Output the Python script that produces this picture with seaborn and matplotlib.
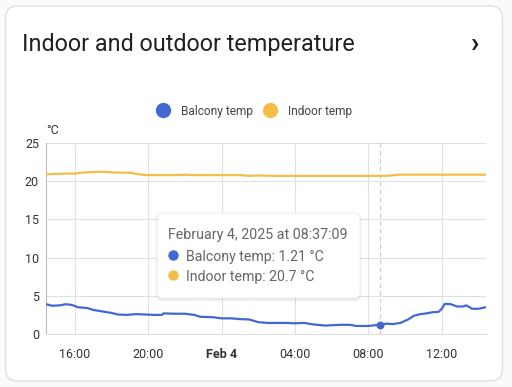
import matplotlib
matplotlib.use("Agg")
import matplotlib.pyplot as plt
from matplotlib.patches import FancyBboxPatch
from matplotlib.lines import Line2D
import pandas as pd
import seaborn as sns

# ---- data --------------------------------------------------------------
balcony_times = [
    "2025-02-03 14:25", "2025-02-03 14:45", "2025-02-03 15:10", "2025-02-03 15:30",
    "2025-02-03 15:50", "2025-02-03 16:10", "2025-02-03 16:40", "2025-02-03 17:00",
    "2025-02-03 17:30", "2025-02-03 18:00", "2025-02-03 18:20", "2025-02-03 18:50",
    "2025-02-03 19:20", "2025-02-03 19:50", "2025-02-03 20:20", "2025-02-03 20:45",
    "2025-02-03 20:50", "2025-02-03 21:30", "2025-02-03 22:00", "2025-02-03 22:30",
    "2025-02-03 22:50", "2025-02-03 23:30", "2025-02-04 00:00", "2025-02-04 00:30",
    "2025-02-04 01:00", "2025-02-04 01:30", "2025-02-04 02:00", "2025-02-04 02:30",
    "2025-02-04 03:30", "2025-02-04 04:00", "2025-02-04 04:30", "2025-02-04 05:00",
    "2025-02-04 05:40", "2025-02-04 06:00", "2025-02-04 06:30", "2025-02-04 07:00",
    "2025-02-04 07:20", "2025-02-04 08:00", "2025-02-04 08:37", "2025-02-04 09:00",
    "2025-02-04 09:20", "2025-02-04 09:45", "2025-02-04 10:10", "2025-02-04 10:30",
    "2025-02-04 10:50", "2025-02-04 11:10", "2025-02-04 11:30", "2025-02-04 11:50",
    "2025-02-04 12:00", "2025-02-04 12:10", "2025-02-04 12:30", "2025-02-04 12:50",
    "2025-02-04 13:10", "2025-02-04 13:20", "2025-02-04 13:40", "2025-02-04 14:00",
    "2025-02-04 14:24",
]
balcony_temp = [
    3.9, 3.7, 3.75, 3.9, 3.8, 3.5, 3.4, 3.15,
    2.95, 2.75, 2.55, 2.5, 2.6, 2.55, 2.5, 2.5,
    2.7, 2.65, 2.65, 2.5, 2.25, 2.2, 2.05, 2.05,
    1.95, 1.9, 1.55, 1.45, 1.45, 1.4, 1.45, 1.25,
    1.1, 1.15, 1.2, 1.2, 1.05, 1.05, 1.21, 1.35,
    1.3, 1.45, 1.9, 2.4, 2.6, 2.7, 2.85, 2.9,
    3.3, 3.95, 3.9, 3.6, 3.6, 3.75, 3.3, 3.3,
    3.5,
]

indoor_times = [
    "2025-02-03 14:25", "2025-02-03 15:30", "2025-02-03 16:00", "2025-02-03 16:30",
    "2025-02-03 17:30", "2025-02-03 18:00", "2025-02-03 19:00", "2025-02-03 19:40",
    "2025-02-03 20:00", "2025-02-03 21:30", "2025-02-03 22:00", "2025-02-03 22:30",
    "2025-02-04 00:00", "2025-02-04 01:00", "2025-02-04 01:30", "2025-02-04 02:00",
    "2025-02-04 03:00", "2025-02-04 06:00", "2025-02-04 08:37", "2025-02-04 09:00",
    "2025-02-04 09:40", "2025-02-04 12:00", "2025-02-04 14:24",
]
indoor_temp = [
    20.9, 21.0, 21.0, 21.15, 21.25, 21.15, 21.1, 20.85,
    20.8, 20.8, 20.85, 20.8, 20.8, 20.8, 20.7, 20.75,
    20.7, 20.7, 20.7, 20.7, 20.85, 20.85, 20.85,
]

hover_time = "2025-02-04 08:37"
hover_balcony = 1.21
hover_indoor = 20.7

x_start, x_end = "2025-02-03 14:25", "2025-02-04 14:25"
y_ticks = [0, 5, 10, 15, 20, 25]

BLUE = "#4269d0"
YELLOW = "#f4bd4a"

df = pd.concat([
    pd.DataFrame({"time": pd.to_datetime(balcony_times), "temp": balcony_temp,
                  "sensor": "Balcony temp"}),
    pd.DataFrame({"time": pd.to_datetime(indoor_times), "temp": indoor_temp,
                  "sensor": "Indoor temp"}),
])

# ---- figure ------------------------------------------------------------
sns.set_style("white")
plt.rcParams["font.family"] = ["Roboto", "DejaVu Sans"]

W, H = 512, 387
fig = plt.figure(figsize=(W / 100, H / 100), dpi=100, facecolor="#fafafa")


def dot(x, y, size, color, z=10):
    # round marker placed in figure pixels
    fig.add_artist(Line2D([x / W], [1 - y / H], marker="o", markersize=size,
                          color=color, linestyle="none",
                          transform=fig.transFigure, zorder=z))


# card (behind the axes)
card = FancyBboxPatch((5.5 / W, 6 / H), 497 / W, 375 / H,
                      boxstyle="round,pad=0,rounding_size=0.024",
                      transform=fig.transFigure, facecolor="white",
                      edgecolor="#e0e0e0", linewidth=1.0, mutation_aspect=W / H,
                      zorder=-5)
fig.patches.append(card)

fig.text(22 / W, 1 - 44 / H, "Indoor and outdoor temperature", fontsize=16.8,
         color="#212121", va="center", ha="left")
fig.text(475 / W, 1 - 45 / H, "\u203a", fontsize=20, color="#212121",
         va="center", ha="center", fontweight="bold")

ax = fig.add_axes([46 / W, 1 - 334 / H, 440 / W, 191 / H])
ax.set_facecolor("none")

sns.lineplot(data=df, x="time", y="temp", hue="sensor",
             palette={"Balcony temp": BLUE, "Indoor temp": YELLOW},
             linewidth=1.6, ax=ax, legend=False, zorder=3)

ax.set_xlim(pd.Timestamp(x_start), pd.Timestamp(x_end))
ax.set_ylim(0, 25)
ax.set_yticks(y_ticks)
ax.set_xlabel("")
ax.set_ylabel("")

tick_times = pd.date_range("2025-02-03 16:00", "2025-02-04 12:00", freq="4h")
ax.set_xticks(tick_times)
labels = ["Feb 4" if t.hour == 0 else t.strftime("%H:%M") for t in tick_times]
ax.set_xticklabels(labels)
for lab in ax.get_xticklabels():
    if lab.get_text() == "Feb 4":
        lab.set_fontweight("bold")

ax.grid(True, color="#e0e0e0", linewidth=0.8, zorder=0)
for s in ["top", "right"]:
    ax.spines[s].set_visible(False)
ax.spines["left"].set_color("#bdbdbd")
ax.spines["bottom"].set_color("#e0e0e0")
ax.spines["left"].set_linewidth(0.8)
ax.spines["bottom"].set_linewidth(0.8)
ax.axvline(pd.Timestamp(x_end), color="#e0e0e0", linewidth=0.8, zorder=0)
ax.tick_params(axis="both", labelsize=9, colors="#333333", length=4,
               width=0.8, pad=3)
ax.tick_params(axis="x", color="#e0e0e0", pad=6)
ax.tick_params(axis="y", length=0, pad=5)

ax.text(0.0, 1.03, "\u00b0C", transform=ax.transAxes, fontsize=9,
        color="#333333", ha="left", va="bottom")

# hover line + point
ht = pd.Timestamp(hover_time)
ax.axvline(ht, color="#cccccc", linewidth=0.8, linestyle=(0, (4, 3)), zorder=2)
ax.scatter([ht], [hover_balcony], s=22, color=BLUE, zorder=5)

# legend on top
for lx, tx, col, name in [(163, 181, BLUE, "Balcony temp"),
                          (270, 288, YELLOW, "Indoor temp")]:
    dot(lx, 110, 10, col)
    fig.text(tx / W, 1 - 110 / H, name, fontsize=8.6, color="#444444",
             ha="left", va="center_baseline")

# tooltip
for i, a in enumerate([0.04, 0.03, 0.02]):
    sh = FancyBboxPatch(((157 - i) / W, (1 - 299 / H) - (i + 1) / H),
                        (203 + 2 * i) / W, (86 + 2 * i) / H,
                        boxstyle="round,pad=0,rounding_size=0.012",
                        transform=fig.transFigure, facecolor="black",
                        edgecolor="none", alpha=a, mutation_aspect=W / H,
                        zorder=8)
    fig.patches.append(sh)
tip = FancyBboxPatch((157 / W, 1 - 298 / H), 203 / W, 85 / H,
                     boxstyle="round,pad=0,rounding_size=0.012",
                     transform=fig.transFigure, facecolor="white",
                     edgecolor="#eeeeee", linewidth=0.6, mutation_aspect=W / H,
                     zorder=9)
fig.patches.append(tip)
fig.text(168 / W, 1 - 234 / H, "February 4, 2025 at 08:37:09", fontsize=10.3,
         color="#666666", ha="left", va="center_baseline", zorder=10)
for yy, col, txt in [(255, BLUE, f"Balcony temp: {hover_balcony} \u00b0C"),
                     (275, YELLOW, f"Indoor temp: {hover_indoor} \u00b0C")]:
    dot(173, yy, 6.5, col, z=11)
    fig.text(186 / W, 1 - yy / H, txt, fontsize=10.2, color="#666666",
             ha="left", va="center_baseline", zorder=10)

fig.savefig("out.png", dpi=100, facecolor=fig.get_facecolor())
